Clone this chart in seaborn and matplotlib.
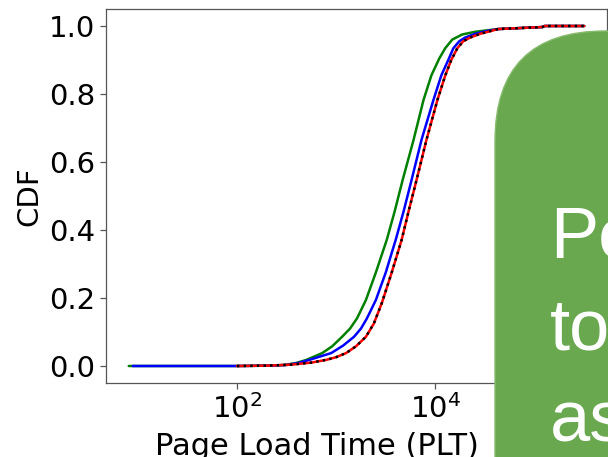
"""CDF of page load time for three configurations, with the slide's green callout box cut off on the right."""
import matplotlib
matplotlib.use("Agg")
import matplotlib.pyplot as plt
from matplotlib.patches import FancyBboxPatch
from matplotlib.transforms import IdentityTransform
import pandas as pd
import seaborn as sns

# page load time in ms, with the CDF at each point
GREEN_PLT = [8.13, 100, 200, 302, 398, 501, 724, 912, 1148, 1380, 1622, 1995, 2512, 3236,
             3890, 4677, 6026, 7586, 9120, 10965, 12589, 14791, 18621, 25119, 42658,
             120226, 125893, 316228]
GREEN_CDF = [0.0, 0.0, 0.001, 0.003, 0.009, 0.018, 0.038, 0.058, 0.086, 0.11, 0.14, 0.194,
             0.275, 0.371, 0.455, 0.547, 0.665, 0.782, 0.855, 0.905, 0.935, 0.960, 0.975,
             0.983, 0.991, 0.997, 1.0, 1.0]

BLUE_PLT = [8.91, 100, 200, 316, 417, 537, 891, 1175, 1514, 1778, 2042, 2512, 3162, 3981,
            4786, 5754, 7244, 9550, 11482, 13490, 15136, 17378, 19953, 25119, 31623, 42658,
            120226, 125893, 316228]
BLUE_CDF = [0.0, 0.0, 0.001, 0.003, 0.009, 0.018, 0.038, 0.06, 0.086, 0.11, 0.14, 0.194,
            0.275, 0.371, 0.455, 0.547, 0.665, 0.782, 0.855, 0.900, 0.934, 0.955, 0.966,
            0.977, 0.984, 0.991, 0.997, 1.0, 1.0]

RED_PLT = [100, 200, 355, 562, 794, 1000, 1259, 1585, 1995, 2399, 2884, 3631, 4571, 5370,
           6457, 8128, 10471, 12589, 14454, 16596, 19055, 22387, 28184, 33884, 42658,
           120226, 125893, 316228]
RED_CDF = [0.0, 0.001, 0.004, 0.010, 0.018, 0.026, 0.038, 0.058, 0.086, 0.125, 0.185, 0.275,
           0.371, 0.455, 0.547, 0.665, 0.782, 0.855, 0.900, 0.934, 0.955, 0.966, 0.977,
           0.983, 0.991, 0.997, 1.0, 1.0]

X_TICKS = [1e2, 1e4]
Y_TICKS = [0.0, 0.2, 0.4, 0.6, 0.8, 1.0]
CALLOUT_LINES = ["Pe", "to", "as"]


def make_frame(plt_values, cdf_values):
    return pd.DataFrame({"plt": plt_values, "cdf": cdf_values})


sns.set_style("ticks")
plt.rcParams["font.family"] = ["DejaVu Sans"]

fig = plt.figure(figsize=(6.08, 4.57), dpi=100)
ax = fig.add_axes([106 / 608, 74 / 457, 501 / 608, 374 / 457])

line_kw = dict(x="plt", y="cdf", estimator=None, sort=False, ax=ax, linewidth=1.8)
sns.lineplot(data=make_frame(GREEN_PLT, GREEN_CDF), color="green", **line_kw)
sns.lineplot(data=make_frame(BLUE_PLT, BLUE_CDF), color="blue", **line_kw)
sns.lineplot(data=make_frame(RED_PLT, RED_CDF), color="red", **line_kw)
# black dotted trace drawn right over the red one
sns.lineplot(data=make_frame(RED_PLT, RED_CDF), color="black", linestyle=":", **line_kw)

ax.set_xscale("log")
ax.set_xticks(X_TICKS)
ax.xaxis.set_minor_locator(matplotlib.ticker.NullLocator())
ax.set_yticks(Y_TICKS)
ax.set_ylim(-0.05, 1.05)
ax.tick_params(labelsize=21, length=4.5, width=0.9, color="#555555", labelcolor="black")
ax.set_xlabel("Page Load Time (PLT)", fontsize=22, color="black")
ax.set_ylabel("CDF", fontsize=21, color="black")
ax.xaxis.set_label_coords(0.421, -0.13)
for spine in ax.spines.values():
    spine.set_color("#555555")
    spine.set_linewidth(0.9)

# green rounded callout from the slide, in pixel coordinates
callout = FancyBboxPatch((495, -300), 500, 726, boxstyle="round,pad=0,rounding_size=110",
                         facecolor="#6aa84f", edgecolor="#86bb6e", linewidth=1.0,
                         transform=IdentityTransform(), zorder=5)
fig.add_artist(callout)
for i, word in enumerate(CALLOUT_LINES):
    fig.text(550, 457 - 258 - i * 92, word, transform=IdentityTransform(), fontsize=52,
             family=["Liberation Sans", "DejaVu Sans"], color="white", zorder=6,
             ha="left", va="baseline")

fig.savefig("out.png", dpi=100)
